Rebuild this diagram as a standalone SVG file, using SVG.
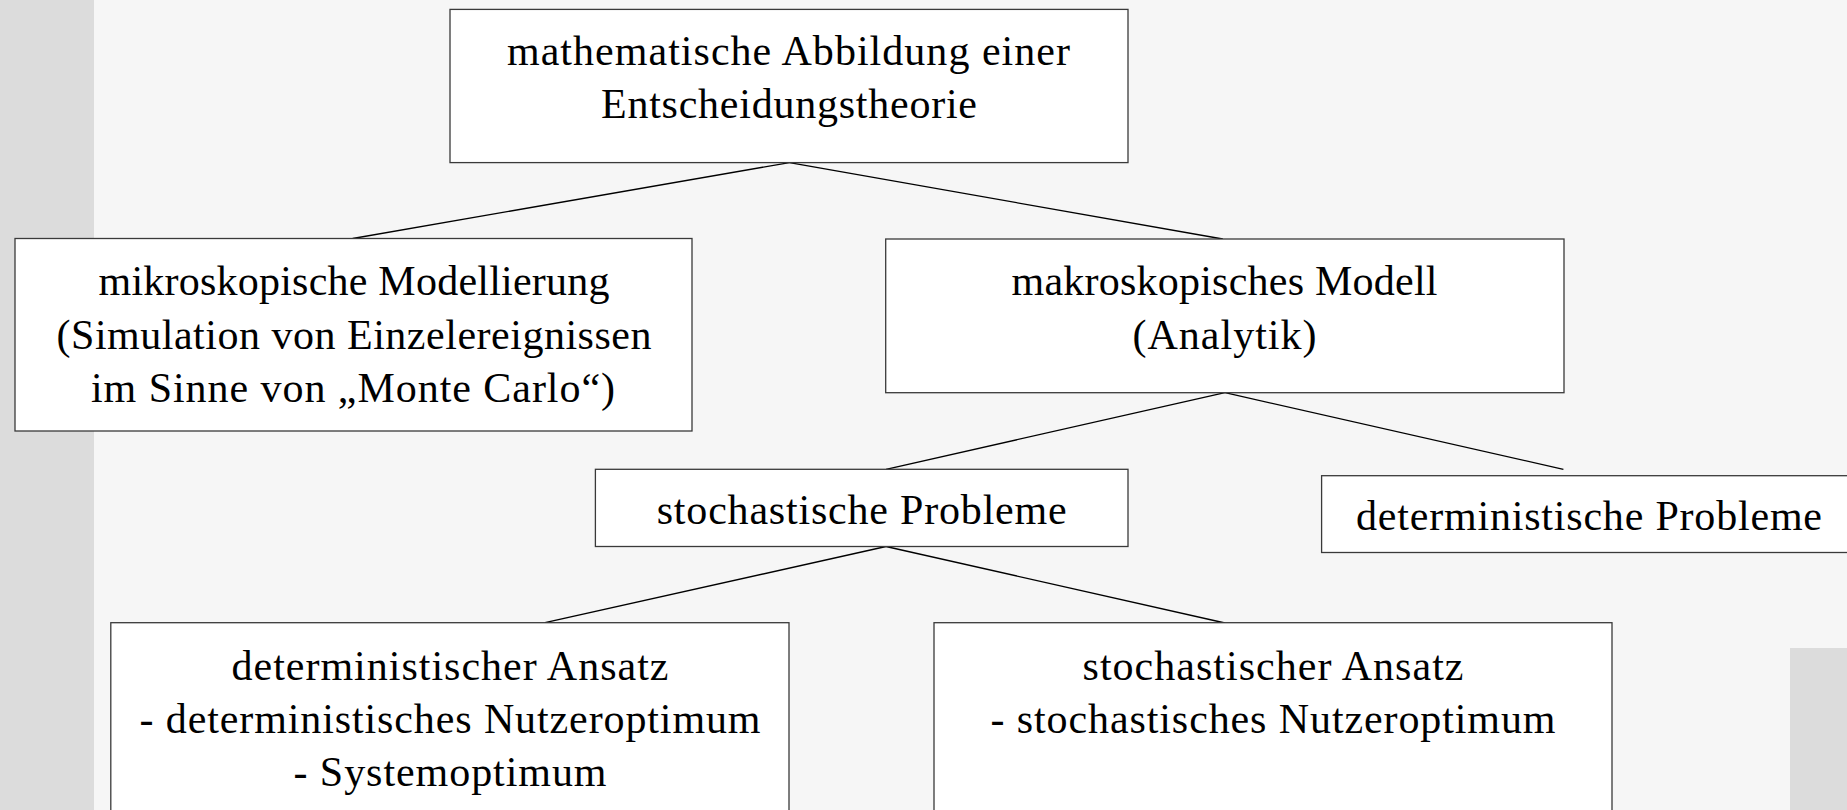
<svg xmlns="http://www.w3.org/2000/svg" width="1847" height="810" viewBox="0 0 1847 810">
<style>
.bg{fill:#f6f6f6}
.side{fill:#dcdcdc}
.box{fill:#ffffff;stroke:#3a3a3a;stroke-width:1.3}
.t{font-family:'Liberation Serif',serif;font-size:42px;fill:#000;text-anchor:middle}
.c{stroke:#000;stroke-width:1.3;fill:none}
</style>
<rect class="bg" x="0" y="0" width="1847" height="810"/>
<rect class="side" x="0" y="0" width="94" height="810"/>
<rect class="side" x="1790" y="648" width="57" height="162"/>
<g id="connectors">
<line class="c" x1="789.5" y1="162.6" x2="352.7" y2="238.5"/>
<line class="c" x1="789.5" y1="162.6" x2="1222.8" y2="239"/>
<line class="c" x1="1225" y1="392.7" x2="886" y2="469.3"/>
<line class="c" x1="1225" y1="392.7" x2="1563.4" y2="469.3"/>
<line class="c" x1="886" y1="546.5" x2="545" y2="622.7"/>
<line class="c" x1="886" y1="546.5" x2="1225" y2="623"/>
</g>
<g id="n_top">
<rect class="box" x="450" y="9.4" width="678" height="153.2"/>
<text class="t" x="788.5" y="65" textLength="563" lengthAdjust="spacing">mathematische Abbildung einer</text>
<text class="t" x="789" y="118" textLength="376" lengthAdjust="spacing">Entscheidungstheorie</text>
</g>
<g id="n_mikro">
<rect class="box" x="15" y="238.5" width="677" height="192.5"/>
<text class="t" x="354" y="294.5" textLength="511" lengthAdjust="spacing">mikroskopische Modellierung</text>
<text class="t" x="354" y="348.5" textLength="595" lengthAdjust="spacing">(Simulation von Einzelereignissen</text>
<text class="t" x="353" y="401.5" textLength="524" lengthAdjust="spacing">im Sinne von „Monte Carlo“)</text>
</g>
<g id="n_makro">
<rect class="box" x="885.7" y="239" width="678.3" height="153.7"/>
<text class="t" x="1224.5" y="294.5" textLength="426" lengthAdjust="spacing">makroskopisches Modell</text>
<text class="t" x="1224.5" y="348.5" textLength="184" lengthAdjust="spacing">(Analytik)</text>
</g>
<g id="n_stochProb">
<rect class="box" x="595.4" y="469.3" width="532.6" height="77.2"/>
<text class="t" x="861.7" y="524" textLength="410" lengthAdjust="spacing">stochastische Probleme</text>
</g>
<g id="n_detProb">
<rect class="box" x="1321.6" y="475.7" width="540" height="76.8"/>
<text class="t" x="1589" y="530" textLength="466" lengthAdjust="spacing">deterministische Probleme</text>
</g>
<g id="n_detAnsatz">
<rect class="box" x="110.8" y="622.7" width="678.2" height="200"/>
<text class="t" x="450" y="680" textLength="437" lengthAdjust="spacing">deterministischer Ansatz</text>
<text class="t" x="450" y="733" textLength="621" lengthAdjust="spacing">- deterministisches Nutzeroptimum</text>
<text class="t" x="450" y="786" textLength="313" lengthAdjust="spacing">- Systemoptimum</text>
</g>
<g id="n_stochAnsatz">
<rect class="box" x="934" y="622.7" width="678" height="200"/>
<text class="t" x="1273" y="680" textLength="381" lengthAdjust="spacing">stochastischer Ansatz</text>
<text class="t" x="1273" y="733" textLength="565" lengthAdjust="spacing">- stochastisches Nutzeroptimum</text>
</g>
</svg>
